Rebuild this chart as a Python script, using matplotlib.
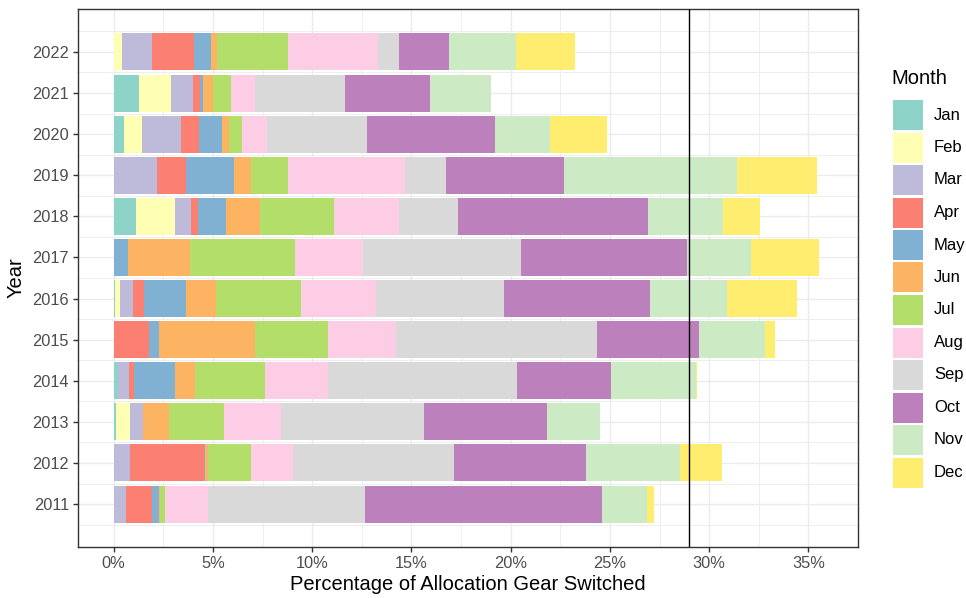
import matplotlib
matplotlib.use("Agg")
import matplotlib.pyplot as plt
from matplotlib.patches import Rectangle
import numpy as np

plt.rcParams['font.family'] = ['Liberation Sans', 'DejaVu Sans']

years = [2011, 2012, 2013, 2014, 2015, 2016, 2017, 2018, 2019, 2020, 2021, 2022]
months = ["Jan", "Feb", "Mar", "Apr", "May", "Jun", "Jul", "Aug", "Sep", "Oct", "Nov", "Dec"]
colors = ["#8DD3C7", "#FFFFB3", "#BEBADA", "#FB8072", "#80B1D3", "#FDB462",
          "#B3DE69", "#FCCDE5", "#D9D9D9", "#BC80BD", "#CCEBC5", "#FFED6F"]

# percentage of allocation gear switched, per month (columns) and year (rows)
jan = [0.00, 0.00, 0.13, 0.22, 0.00, 0.07, 0.00, 1.10, 0.00, 0.53, 1.27, 0.00]
feb = [0.00, 0.00, 0.68, 0.00, 0.00, 0.25, 0.00, 1.97, 0.00, 0.90, 1.63, 0.42]
mar = [0.60, 0.82, 0.68, 0.53, 0.00, 0.67, 0.00, 0.80, 2.17, 1.97, 1.08, 1.53]
apr = [1.35, 3.72, 0.00, 0.28, 1.77, 0.52, 0.00, 0.38, 1.47, 0.92, 0.37, 2.10]
may = [0.35, 0.07, 0.00, 2.05, 0.53, 2.15, 0.70, 1.43, 2.43, 1.13, 0.15, 0.85]
jun = [0.05, 0.15, 1.32, 1.02, 4.80, 1.47, 3.12, 1.68, 0.85, 0.38, 0.50, 0.32]
jul = [0.22, 2.17, 2.75, 3.50, 3.72, 4.33, 5.32, 3.73, 1.87, 0.62, 0.90, 3.57]
aug = [2.20, 2.10, 2.88, 3.22, 3.40, 3.75, 3.43, 3.27, 5.87, 1.27, 1.20, 4.52]
sep = [7.87, 8.12, 7.17, 9.50, 10.11, 6.43, 7.97, 3.00, 2.10, 5.02, 4.57, 1.07]
octo = [11.98, 6.63, 6.23, 4.73, 5.14, 7.40, 8.32, 9.55, 5.93, 6.47, 4.25, 2.50]
nov = [2.25, 4.75, 2.65, 4.30, 3.35, 3.84, 3.27, 3.80, 8.72, 2.75, 3.08, 3.38]
dec = [0.33, 2.13, 0.00, 0.05, 0.48, 3.56, 3.38, 1.86, 4.00, 2.87, 0.00, 3.00]

series = [jan, feb, mar, apr, may, jun, jul, aug, sep, octo, nov, dec]
threshold = 29.0

W, H = 966, 598
fig = plt.figure(figsize=(W / 100, H / 100), dpi=100)
ax = fig.add_axes([78 / W, 1 - 547 / H, (858 - 78) / W, (547 - 9) / H])

left = np.zeros(len(years))
for vals, col in zip(series, colors):
    ax.barh(years, vals, left=left, height=0.9, color=col, edgecolor='none', zorder=2)
    left = left + np.array(vals)

ax.axvline(threshold, color='black', linewidth=1.0, zorder=3)

ax.set_xlim(-1.8, 37.2)
ax.set_ylim(2009.955, 2023.045)

xt = [0, 5, 10, 15, 20, 25, 30, 35]
ax.set_xticks(xt)
ax.set_xticklabels([f"{v}%" for v in xt])
ax.set_xticks([2.5, 7.5, 12.5, 17.5, 22.5, 27.5, 32.5, 37.5], minor=True)
ax.set_yticks(years)
ax.set_yticklabels([str(y) for y in years])
ax.set_yticks([2010.5 + i for i in range(13)], minor=True)

ax.grid(True, which='major', color='#EBEBEB', linewidth=1.0, zorder=0)
ax.grid(True, which='minor', color='#EBEBEB', linewidth=0.6, zorder=0)
ax.set_axisbelow(True)

for s in ax.spines.values():
    s.set_color('#333333')
    s.set_linewidth(1.0)

ax.tick_params(axis='both', which='major', colors='#333333', labelcolor='#4D4D4D',
               labelsize=11.8, length=3.5, width=1.0, pad=3)
ax.tick_params(axis='both', which='minor', length=0)

ax.set_xlabel("Percentage of Allocation Gear Switched", fontsize=14.5, color='black', labelpad=3)
ax.set_ylabel("Year", fontsize=14.5, color='black', labelpad=5)

# legend
fig.text(891 / W, 1 - 78 / H, "Month", fontsize=14.5, ha='left', va='center')
for i, (m, col) in enumerate(zip(months, colors)):
    yc = 115 + 32.5 * i
    fig.add_artist(Rectangle((893 / W, 1 - (yc + 15) / H), 30 / W, 30 / H,
                             transform=fig.transFigure, facecolor=col, edgecolor='none'))
    fig.text(934 / W, 1 - yc / H, m, fontsize=12, ha='left', va='center', color='black')

fig.savefig("out.png", dpi=100)
